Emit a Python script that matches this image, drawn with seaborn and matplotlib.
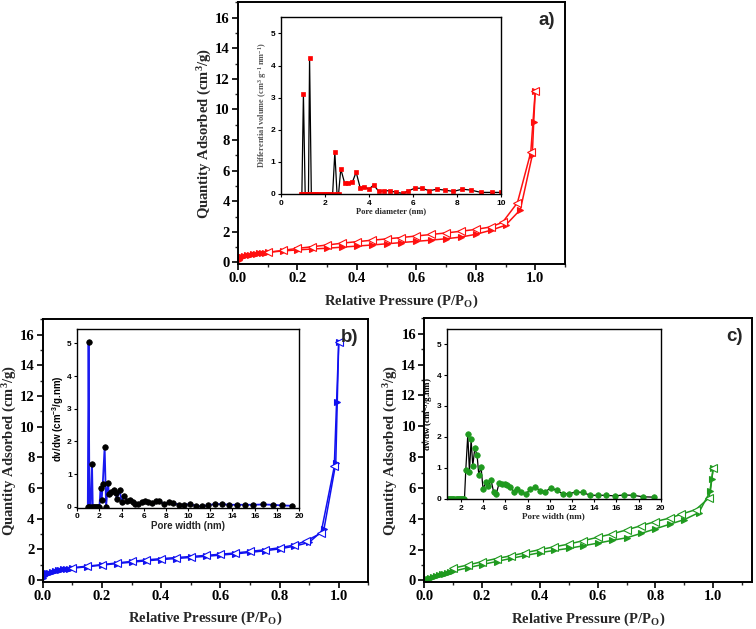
import numpy as np
import pandas as pd
import matplotlib
matplotlib.use("Agg")
import matplotlib.pyplot as plt
from matplotlib.ticker import MultipleLocator
import seaborn as sns

# isotherm data (P/P0, quantity adsorbed)
p_ads = [0.002, 0.005, 0.01, 0.015, 0.02, 0.03, 0.04, 0.05, 0.06, 0.07, 0.08, 0.09,
         0.1, 0.15, 0.2, 0.25, 0.3, 0.35, 0.4, 0.45, 0.5, 0.55, 0.6, 0.65, 0.7, 0.75,
         0.8, 0.85, 0.9, 0.95, 0.99, 0.995, 1.0]
p_des = [1.0, 0.985, 0.94, 0.89, 0.85, 0.8, 0.75, 0.7, 0.65, 0.6, 0.55, 0.5, 0.45,
         0.4, 0.35, 0.3, 0.25, 0.2, 0.15, 0.1]

a_ads = [0.15, 0.25, 0.33, 0.38, 0.42, 0.47, 0.51, 0.54, 0.57, 0.6, 0.62, 0.64,
         0.66, 0.75, 0.82, 0.88, 0.93, 1.0, 1.07, 1.14, 1.22, 1.3, 1.38, 1.46, 1.55,
         1.66, 1.84, 2.1, 2.43, 3.45, 7.0, 9.2, 11.2]
a_des = [11.2, 7.2, 3.9, 2.62, 2.32, 2.16, 2.04, 1.93, 1.83, 1.73, 1.63, 1.54, 1.45,
         1.36, 1.26, 1.14, 1.03, 0.92, 0.79, 0.66]

b_ads = [0.15, 0.28, 0.38, 0.44, 0.48, 0.55, 0.6, 0.63, 0.66, 0.69, 0.72, 0.74,
         0.77, 0.86, 0.97, 1.07, 1.16, 1.25, 1.33, 1.4, 1.47, 1.54, 1.62, 1.7, 1.8,
         1.9, 2.03, 2.2, 2.45, 3.3, 7.6, 11.6, 15.5]
b_des = [15.5, 7.4, 3.05, 2.55, 2.28, 2.1, 1.97, 1.86, 1.76, 1.68, 1.6, 1.53, 1.46,
         1.39, 1.31, 1.21, 1.11, 1.0, 0.9, 0.8]

c_ads = [0.02, 0.04, 0.08, 0.12, 0.16, 0.22, 0.28, 0.33, 0.39, 0.45, 0.5, 0.55,
         0.6, 0.82, 1.03, 1.23, 1.43, 1.62, 1.8, 1.95, 2.08, 2.25, 2.42, 2.6, 2.77,
         3.05, 3.35, 3.65, 3.95, 4.4, 5.8, 6.6, 7.3]
c_des = [7.3, 5.35, 4.6, 4.3, 4.05, 3.82, 3.55, 3.28, 3.02, 2.8, 2.58, 2.36, 2.18,
         2.0, 1.8, 1.6, 1.42, 1.22, 1.0, 0.8]

# pore size distributions (insets)
a_pore = [0.9, 0.95, 1.02, 1.1, 1.15, 1.2, 1.25, 1.3, 1.38, 1.45, 1.55, 1.65, 1.75,
          1.85, 1.95, 2.05, 2.15, 2.25, 2.35, 2.45, 2.55, 2.62, 2.72, 2.9, 3.05, 3.25,
          3.42, 3.6, 3.8, 4.0, 4.22, 4.45, 4.7, 4.95, 5.25, 5.55, 5.8, 6.1, 6.4, 6.75,
          7.1, 7.45, 7.85, 8.25, 8.65, 9.1, 9.6, 10.0]
a_dv = [0, 0, 3.12, 0, 0, 0, 0, 4.22, 0, 0, 0, 0, 0, 0, 0, 0, 0, 0, 0, 1.3, 0, 0,
        0.78, 0.33, 0.33, 0.37, 0.68, 0.2, 0.22, 0.15, 0.28, 0.08, 0.1, 0.1, 0.05,
        0.02, 0.1, 0.18, 0.18, 0.1, 0.15, 0.12, 0.08, 0.15, 0.12, 0.05, 0.05, 0.05]

b_pore = [0.95, 1.02, 1.1, 1.2, 1.33, 1.4, 1.5, 1.6, 1.7, 1.8, 1.9, 2.0, 2.1, 2.2,
          2.3, 2.47, 2.6, 2.77, 2.86, 3.07, 3.28, 3.46, 3.58, 3.83, 4.0, 4.25, 4.5,
          4.73, 5.0, 5.24, 5.5, 5.8, 6.1, 6.4, 6.7, 7.08, 7.38, 7.8, 8.28, 8.67, 9.19,
          9.6, 10.15, 10.7, 11.23, 11.8, 12.44, 13.04, 13.7, 14.43, 15.15, 15.87,
          16.75, 17.62, 18.46, 19.37]
b_dv = [0, 5.05, 0, 0, 1.31, 0, 0, 0, 0, 0, 0, 0, 0.58, 0.2, 0.71, 1.84, 0, 0.74,
        0.38, 0.46, 0.51, 0.41, 0.24, 0.51, 0.15, 0.33, 0.17, 0.22, 0.16, 0.08, 0.07,
        0.16, 0.18, 0.15, 0.1, 0.18, 0.17, 0.09, 0.13, 0.11, 0.06, 0.06, 0.08, 0.03,
        0.01, 0.05, 0.08, 0.08, 0.06, 0.06, 0.06, 0.06, 0.07, 0.06, 0.04, 0.03]

c_pore = [0.8, 0.9, 1.0, 1.1, 1.2, 1.3, 1.4, 1.5, 1.6, 1.7, 1.8, 1.9, 2.0, 2.1, 2.2,
          2.3, 2.42, 2.6, 2.75, 2.9, 3.05, 3.23, 3.44, 3.59, 3.8, 3.98, 4.22, 4.46,
          4.7, 4.93, 5.17, 5.44, 5.71, 5.95, 6.16, 6.4, 6.73, 7.06, 7.42, 7.81, 8.22,
          8.67, 9.12, 9.6, 10.1, 10.6, 11.15, 11.75, 12.35, 12.97, 13.64, 14.32,
          15.07, 15.85, 16.66, 17.52, 18.42, 19.4]
c_dv = [0, 0, 0, 0, 0, 0, 0, 0, 0, 0, 0, 0, 0, 0, 0, 0, 0.93, 2.08, 0.86, 1.92, 1.06,
        1.63, 1.4, 0.78, 1.01, 0.3, 0.55, 0.41, 0.59, 0.22, 0.16, 0.52, 0.49, 0.46,
        0.44, 0.39, 0.23, 0.32, 0.23, 0.14, 0.3, 0.38, 0.26, 0.23, 0.35, 0.27, 0.16,
        0.16, 0.22, 0.2, 0.11, 0.11, 0.11, 0.09, 0.12, 0.11, 0.06, 0.05]

sns.set_theme(style="ticks")
plt.rcParams["font.family"] = ["Liberation Serif", "DejaVu Serif"]
plt.rcParams["font.weight"] = "bold"
plt.rcParams["axes.labelweight"] = "bold"
plt.rcParams["mathtext.fontset"] = "custom"
plt.rcParams["mathtext.rm"] = "Liberation Serif:bold"
plt.rcParams["mathtext.it"] = "Liberation Serif:bold"
plt.rcParams["mathtext.bf"] = "Liberation Serif:bold"
plt.rcParams["mathtext.sf"] = "Liberation Sans:bold"
plt.rcParams["mathtext.default"] = "rm"

fig = plt.figure(figsize=(7.56, 6.29), dpi=100)


def isotherm(ax, ads, des, color, xmax, letter):
    sns.lineplot(x=p_ads, y=ads, ax=ax, sort=False, estimator=None, color=color,
                 lw=1.1, marker=">", markersize=5, markerfacecolor=color,
                 markeredgecolor=color, markeredgewidth=0.8)
    sns.lineplot(x=p_des, y=des, ax=ax, sort=False, estimator=None, color=color,
                 lw=1.1, marker="<", markersize=6, markerfacecolor="white",
                 markeredgecolor=color, markeredgewidth=0.8)
    ax.set_xlim(0, xmax)
    ax.set_ylim(-0.1, 17)
    ax.xaxis.set_minor_locator(MultipleLocator(0.1))
    ax.yaxis.set_major_locator(MultipleLocator(2))
    ax.yaxis.set_minor_locator(MultipleLocator(1))
    ax.set_xticks([0, 0.2, 0.4, 0.6, 0.8, 1.0])
    ax.set_xticklabels(["0.0", "0.2", "0.4", "0.6", "0.8", "1.0"])
    ax.tick_params(which="major", direction="out", length=4, width=1.2,
                   labelsize=10.5, pad=2, colors="black")
    ax.tick_params(which="minor", direction="out", length=2.5, width=1.0)
    for s in ax.spines.values():
        s.set_linewidth(1.4)
        s.set_color("black")
    ax.set_xlabel("Relative Pressure (P/P$_\\mathrm{O}$)", fontsize=10.5, labelpad=5)
    ax.set_ylabel("Quantity Adsorbed (cm$^3$/g)", fontsize=10.5, labelpad=0.5)
    ax.text(0.97, 0.93, letter, transform=ax.transAxes, ha="right", va="center",
            fontsize=13.5, fontweight="bold", family="Liberation Sans")


def inset(ax, x, y, mcolor, lcolor, marker, ms, lw, xlim, ylim, xticks,
          xlabel, ylabel, tickfam, labfam, labsize, ylabcolor="black"):
    sns.lineplot(x=x, y=y, ax=ax, sort=False, estimator=None, color=lcolor, lw=lw,
                 marker=marker, markersize=ms, markerfacecolor=mcolor,
                 markeredgecolor=mcolor, markeredgewidth=0.5)
    ax.set_xlim(*xlim)
    ax.set_ylim(*ylim)
    ax.set_xticks(xticks)
    ax.set_yticks([0, 1, 2, 3, 4, 5])
    ax.tick_params(direction="out", length=2.5, width=0.8, labelsize=6, pad=1.5,
                   colors="black")
    for lab in ax.get_xticklabels() + ax.get_yticklabels():
        lab.set_family(tickfam)
        lab.set_fontweight("bold")
    for s in ax.spines.values():
        s.set_linewidth(1.0)
        s.set_color("black")
    ax.set_xlabel(xlabel, fontsize=labsize, family=labfam, fontweight="bold",
                  labelpad=0.5)
    ax.set_ylabel(ylabel, fontsize=labsize, family=labfam, fontweight="bold",
                  labelpad=1, color=ylabcolor)


# panel a
ax_a = fig.add_axes([0.3148, 0.5803, 0.4325, 0.416])
isotherm(ax_a, a_ads, a_des, "#ff1010", 1.1, "a)")
in_a = fig.add_axes([0.3717, 0.6916, 0.2906, 0.2818])
inset(in_a, a_pore, a_dv, "#ff0000", "black", "s", 3.5, 0.9, (0, 10), (0, 5.52),
      [0, 2, 4, 6, 8, 10], "Pore diameter (nm)",
      "Differential volume (cm$^3$ g$^{-1}$ nm$^{-1}$)",
      "Liberation Sans", "Liberation Serif", 6, "#555555")

# panel b
ax_b = fig.add_axes([0.0565, 0.0755, 0.4307, 0.4169])
isotherm(ax_b, b_ads, b_des, "#1010f0", 1.1, "b)")
in_b = fig.add_axes([0.1022, 0.1928, 0.2933, 0.2837])
inset(in_b, b_pore, b_dv, "black", "#1a1af0", "o", 4, 1.3, (0, 20), (-0.03, 5.43),
      list(range(0, 21, 2)), "Pore width (nm)",
      "dv/dw (cm$^{\\mathsf{-3}}$/g.nm)",
      "Liberation Sans", "Liberation Sans", 7)

# panel c
ax_c = fig.add_axes([0.5612, 0.0747, 0.4339, 0.4193])
isotherm(ax_c, c_ads, c_des, "#1f9a1f", 1.135, "c)")
in_c = fig.add_axes([0.5909, 0.2062, 0.2831, 0.2703])
inset(in_c, c_pore, c_dv, "#1f9a1f", "black", "o", 4, 0.9, (0.7, 20), (-0.02, 5.48),
      list(range(2, 21, 2)), "Pore width (nm)",
      "dv/dw (cm$^{-3}$/g.nm)",
      "Liberation Sans", "Liberation Serif", 6.5)

fig.savefig("out.png", dpi=100)
